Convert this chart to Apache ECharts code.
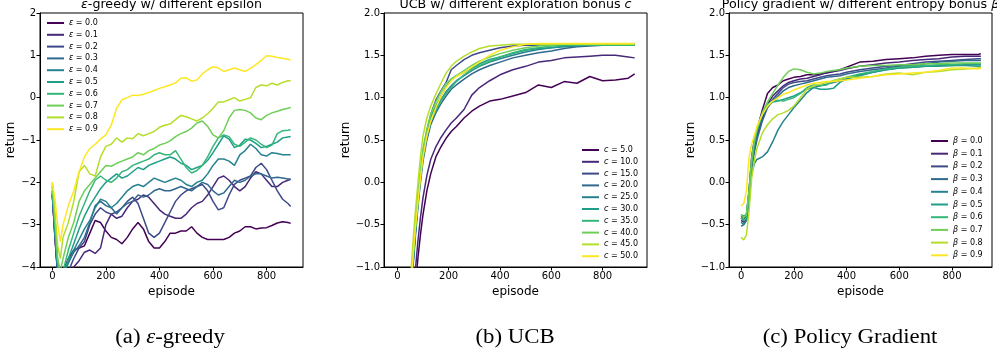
<!DOCTYPE html>
<html>
<head>
<meta charset="utf-8">
<script src="https://cdn.jsdelivr.net/npm/echarts@6/dist/echarts.min.js"></script>
<style>
  html, body { margin: 0; padding: 0; background: #fff; }
  #main { width: 997px; height: 356px; }
</style>
</head>
<body>
<div id="main"></div>
<script>
// ---- data ----
// (a) epsilon-greedy
var epsEpisodes = [0,10,20,30,40,60,80,100,120,140,160,180,200,220,240,260,280,300,320,340,360,380,400,420,440,460,480,500,520,540,560,580,600,620,640,660,680,700,720,740,760,780,800,820,840,860,880,890];
var eps00 = [-2.3,-3.3,-4.2,-4.4,-4.1,-3.8,-3.6,-3.55,-3.5,-3.2,-2.9,-2.95,-3.15,-3.3,-3.35,-3.45,-3.3,-3.1,-2.95,-3.1,-3.4,-3.55,-3.55,-3.4,-3.2,-3.2,-3.15,-3.15,-3.05,-3.2,-3.3,-3.35,-3.35,-3.35,-3.35,-3.3,-3.2,-3.15,-3.05,-3.05,-3.1,-3.08,-3.07,-3.02,-2.96,-2.93,-2.95,-2.97];
var eps01 = [-2.25,-3.3,-4.2,-4.5,-4.4,-4.2,-4.0,-3.85,-3.65,-3.6,-3.68,-3.55,-3.0,-2.75,-2.85,-2.8,-2.6,-2.45,-2.4,-2.3,-2.35,-2.5,-2.65,-2.75,-2.8,-2.85,-2.85,-2.75,-2.6,-2.5,-2.45,-2.3,-2.1,-1.9,-1.85,-1.95,-2.1,-2.2,-2.1,-1.9,-1.75,-1.8,-1.95,-2.1,-2.1,-2.0,-1.95,-1.93];
var eps02 = [-2.3,-3.3,-4.1,-4.5,-4.3,-4.1,-3.8,-3.55,-3.4,-3.0,-2.75,-2.6,-2.7,-2.75,-2.7,-2.6,-2.45,-2.35,-2.5,-2.85,-3.2,-3.3,-3.2,-2.95,-2.7,-2.45,-2.3,-2.2,-2.15,-2.1,-2.05,-2.2,-2.45,-2.65,-2.6,-2.3,-2.05,-1.95,-1.9,-1.85,-1.65,-1.55,-1.7,-1.95,-2.2,-2.4,-2.5,-2.57];
var eps03 = [-2.3,-3.2,-4.1,-4.4,-4.2,-3.9,-3.65,-3.5,-3.3,-2.95,-2.55,-2.45,-2.55,-2.6,-2.75,-2.6,-2.5,-2.45,-2.3,-2.35,-2.3,-2.2,-2.15,-2.2,-2.2,-2.15,-2.1,-2.15,-2.2,-2.1,-2.0,-2.05,-2.2,-2.3,-2.25,-2.1,-1.95,-2.0,-1.95,-1.85,-1.8,-1.8,-1.85,-1.9,-1.88,-1.9,-1.92,-1.92];
var eps04 = [-2.2,-3.2,-4.0,-4.3,-4.2,-3.9,-3.6,-3.35,-3.1,-2.9,-2.6,-2.4,-2.45,-2.6,-2.5,-2.35,-2.2,-2.1,-2.05,-2.1,-2.0,-1.9,-1.95,-2.0,-1.95,-1.9,-1.95,-2.05,-2.1,-2.0,-1.95,-1.8,-1.6,-1.45,-1.45,-1.5,-1.6,-1.35,-1.25,-1.1,-1.2,-1.35,-1.38,-1.3,-1.32,-1.35,-1.35,-1.35];
var eps05 = [-2.2,-3.1,-4.0,-4.3,-4.2,-3.8,-3.45,-3.1,-2.8,-2.55,-2.35,-2.15,-2.0,-1.9,-1.8,-1.9,-1.85,-1.75,-1.65,-1.7,-1.6,-1.55,-1.5,-1.45,-1.4,-1.45,-1.55,-1.6,-1.7,-1.65,-1.6,-1.48,-1.3,-1.1,-0.9,-0.98,-1.18,-1.12,-0.98,-1.0,-1.08,-1.18,-1.15,-1.1,-1.05,-0.95,-0.93,-0.92];
var eps06 = [-2.1,-3.0,-3.9,-4.2,-4.1,-3.6,-3.2,-2.8,-2.5,-2.2,-1.95,-1.85,-1.95,-2.0,-1.9,-1.75,-1.7,-1.6,-1.55,-1.5,-1.45,-1.35,-1.3,-1.35,-1.35,-1.25,-1.45,-1.65,-1.78,-1.72,-1.6,-1.4,-1.15,-0.95,-0.88,-0.92,-1.1,-1.15,-1.05,-0.95,-1.0,-1.1,-1.18,-1.12,-0.85,-0.78,-0.77,-0.76];
var eps07 = [-2.05,-2.9,-3.8,-4.1,-3.8,-3.3,-2.95,-2.45,-2.2,-2.05,-1.9,-1.75,-1.6,-1.62,-1.55,-1.5,-1.45,-1.4,-1.3,-1.35,-1.25,-1.2,-1.12,-1.08,-1.02,-0.92,-0.85,-0.8,-0.72,-0.6,-0.55,-0.68,-0.88,-0.95,-0.78,-0.48,-0.3,-0.28,-0.3,-0.36,-0.48,-0.52,-0.42,-0.36,-0.32,-0.28,-0.25,-0.23];
var eps08 = [-2.0,-2.7,-3.5,-3.8,-3.3,-2.95,-2.45,-1.75,-1.6,-1.8,-1.85,-1.4,-1.15,-1.1,-0.95,-1.05,-0.95,-0.97,-0.85,-0.9,-0.85,-0.8,-0.7,-0.65,-0.62,-0.52,-0.42,-0.45,-0.5,-0.55,-0.48,-0.38,-0.25,-0.1,-0.1,-0.05,0.0,-0.08,-0.04,0.0,0.24,0.3,0.28,0.34,0.3,0.36,0.4,0.4];
var eps09 = [-2.0,-2.4,-3.0,-3.4,-3.0,-2.55,-2.2,-1.75,-1.4,-1.2,-1.1,-0.98,-0.88,-0.65,-0.25,-0.05,0.0,0.06,0.05,0.08,0.12,0.17,0.22,0.26,0.3,0.35,0.46,0.47,0.39,0.42,0.56,0.66,0.73,0.7,0.62,0.66,0.7,0.66,0.62,0.69,0.78,0.88,0.99,0.98,0.95,0.93,0.91,0.88];
var epsNames = ['ε = 0.0','ε = 0.1','ε = 0.2','ε = 0.3','ε = 0.4','ε = 0.5','ε = 0.6','ε = 0.7','ε = 0.8','ε = 0.9'];

// (b) UCB
var ucbEpisodes = [0,40,50,60,70,80,90,100,115,130,150,170,190,210,230,260,290,320,360,400,450,500,550,600,650,700,750,800,850,900,925];
var ucb05 = [-4,-2.6,-2.1,-1.65,-1.25,-0.9,-0.62,-0.38,-0.1,0.1,0.3,0.42,0.52,0.6,0.66,0.76,0.84,0.9,0.96,0.98,1.02,1.06,1.15,1.12,1.19,1.17,1.25,1.2,1.21,1.23,1.28];
var ucb10 = [-4,-2.4,-1.9,-1.45,-1.05,-0.7,-0.42,-0.18,0.08,0.27,0.42,0.53,0.62,0.7,0.76,0.86,1.03,1.12,1.2,1.27,1.33,1.37,1.42,1.44,1.47,1.48,1.49,1.5,1.5,1.48,1.47];
var ucb15 = [-4,-1.9,-1.45,-1.0,-0.6,-0.25,0.05,0.3,0.6,0.8,0.97,1.08,1.18,1.33,1.38,1.45,1.5,1.53,1.56,1.59,1.61,1.62,1.62,1.63,1.63,1.63,1.63,1.63,1.63,1.63,1.63];
var ucb20 = [-4,-1.95,-1.5,-1.05,-0.65,-0.3,0.0,0.25,0.5,0.68,0.82,0.93,1.02,1.1,1.15,1.22,1.28,1.33,1.38,1.42,1.47,1.5,1.53,1.55,1.58,1.6,1.61,1.62,1.62,1.62,1.62];
var ucb25 = [-4,-1.9,-1.45,-1.0,-0.6,-0.25,0.05,0.3,0.55,0.72,0.86,0.97,1.07,1.14,1.2,1.26,1.32,1.37,1.42,1.46,1.5,1.54,1.57,1.59,1.6,1.61,1.62,1.62,1.62,1.62,1.62];
var ucb30 = [-4,-1.85,-1.4,-0.95,-0.55,-0.2,0.1,0.35,0.6,0.77,0.9,1.02,1.13,1.22,1.26,1.3,1.35,1.4,1.45,1.48,1.52,1.56,1.58,1.59,1.61,1.62,1.62,1.62,1.62,1.62,1.62];
var ucb35 = [-4,-1.85,-1.4,-0.97,-0.58,-0.25,0.05,0.3,0.55,0.72,0.85,0.96,1.05,1.12,1.19,1.27,1.33,1.38,1.43,1.48,1.53,1.57,1.59,1.61,1.62,1.62,1.62,1.62,1.62,1.62,1.62];
var ucb40 = [-4,-1.8,-1.35,-0.9,-0.5,-0.15,0.15,0.4,0.63,0.8,0.95,1.07,1.17,1.22,1.26,1.32,1.38,1.43,1.48,1.52,1.56,1.59,1.61,1.62,1.63,1.63,1.63,1.63,1.63,1.63,1.63];
var ucb45 = [-4,-1.65,-1.2,-0.75,-0.35,-0.02,0.3,0.55,0.76,0.9,1.04,1.17,1.29,1.37,1.43,1.49,1.54,1.58,1.61,1.62,1.63,1.63,1.63,1.63,1.63,1.63,1.63,1.63,1.63,1.63,1.63];
var ucb50 = [-4,-1.8,-1.35,-0.92,-0.55,-0.25,0.05,0.3,0.55,0.72,0.88,1.02,1.12,1.2,1.25,1.3,1.36,1.42,1.5,1.56,1.6,1.63,1.64,1.64,1.64,1.64,1.64,1.64,1.64,1.64,1.64];
var ucbNames = ['c = 5.0','c = 10.0','c = 15.0','c = 20.0','c = 25.0','c = 30.0','c = 35.0','c = 40.0','c = 45.0','c = 50.0'];

// (c) policy gradient
var pgEpisodes = [0,10,20,30,40,50,60,80,100,120,140,160,180,200,225,250,275,300,325,350,375,400,450,500,550,600,650,700,750,800,850,900,910];
var pg00 = [-0.42,-0.45,-0.4,-0.1,0.3,0.5,0.62,0.85,1.05,1.12,1.15,1.2,1.22,1.24,1.25,1.27,1.27,1.28,1.29,1.31,1.33,1.36,1.42,1.43,1.45,1.46,1.47,1.49,1.5,1.51,1.51,1.51,1.52];
var pg01 = [-0.45,-0.47,-0.45,-0.2,0.2,0.42,0.55,0.75,0.92,1.02,1.08,1.14,1.18,1.2,1.22,1.23,1.25,1.27,1.3,1.31,1.32,1.34,1.37,1.39,1.41,1.42,1.44,1.45,1.46,1.48,1.49,1.49,1.49];
var pg02 = [-0.4,-0.42,-0.4,-0.15,0.22,0.45,0.58,0.78,0.9,0.98,1.05,1.12,1.16,1.18,1.19,1.2,1.22,1.24,1.26,1.27,1.28,1.3,1.33,1.35,1.37,1.38,1.4,1.42,1.43,1.44,1.45,1.46,1.46];
var pg03 = [-0.52,-0.5,-0.45,-0.2,0.15,0.35,0.5,0.72,0.88,0.96,1.02,1.08,1.12,1.14,1.16,1.18,1.2,1.22,1.24,1.25,1.26,1.28,1.31,1.33,1.35,1.37,1.38,1.4,1.42,1.43,1.44,1.44,1.44];
var pg04 = [-0.47,-0.5,-0.45,-0.2,0.1,0.22,0.27,0.3,0.36,0.48,0.62,0.72,0.8,0.88,0.97,1.06,1.12,1.14,1.16,1.18,1.2,1.22,1.27,1.3,1.33,1.35,1.36,1.37,1.38,1.38,1.39,1.39,1.39];
var pg05 = [-0.38,-0.4,-0.38,-0.1,0.25,0.48,0.62,0.8,0.9,0.95,0.96,0.98,1.0,1.02,1.06,1.1,1.12,1.1,1.1,1.11,1.18,1.22,1.26,1.3,1.33,1.35,1.36,1.37,1.37,1.38,1.38,1.37,1.37];
var pg06 = [-0.42,-0.45,-0.42,-0.15,0.22,0.45,0.6,0.8,0.92,0.96,0.97,0.96,0.98,1.0,1.05,1.12,1.15,1.14,1.15,1.2,1.22,1.24,1.28,1.31,1.34,1.36,1.37,1.38,1.39,1.39,1.4,1.4,1.4];
var pg07 = [-0.38,-0.42,-0.38,-0.1,0.28,0.5,0.62,0.82,0.95,1.05,1.15,1.24,1.31,1.34,1.33,1.3,1.28,1.29,1.31,1.32,1.33,1.35,1.37,1.38,1.38,1.39,1.39,1.4,1.4,1.41,1.41,1.41,1.41];
var pg08 = [-0.65,-0.68,-0.62,-0.35,0.05,0.25,0.4,0.58,0.68,0.75,0.8,0.82,0.85,0.9,1.0,1.1,1.14,1.16,1.18,1.2,1.22,1.24,1.24,1.25,1.28,1.29,1.27,1.3,1.31,1.33,1.34,1.35,1.36];
var pg09 = [-0.28,-0.25,-0.1,0.3,0.45,0.55,0.66,0.8,0.9,0.96,1.0,1.04,1.06,1.09,1.12,1.15,1.17,1.18,1.19,1.19,1.2,1.21,1.23,1.25,1.27,1.28,1.29,1.3,1.32,1.35,1.35,1.34,1.35];
var pgNames = ['β = 0.0','β = 0.1','β = 0.2','β = 0.3','β = 0.4','β = 0.5','β = 0.6','β = 0.7','β = 0.8','β = 0.9'];

var xTickValues = [0, 200, 400, 600, 800];

// ---- chart ----
var FONT = 'DejaVu Sans';
var viridis = ['#440154','#482878','#3e4989','#31688e','#26828e','#1f9e89','#35b779','#6ece58','#b5de2b','#fde725'];

var chart = echarts.init(document.getElementById('main'));

function minusFmt(digits) {
  return function (v) {
    var s = digits ? Math.abs(v).toFixed(digits) : String(Math.abs(v));
    return v < 0 ? '\u2212' + s : s;
  };
}

function makeGrid(left) {
  return { left: left, top: 13, width: 263, height: 254, show: true,
           borderColor: '#000', borderWidth: 1, backgroundColor: 'transparent' };
}

function makeX(i, min, max) {
  return {
    type: 'value', gridIndex: i, min: min, max: max,
    name: 'episode', nameLocation: 'middle', nameGap: 16,
    nameTextStyle: { fontSize: 12, fontFamily: FONT, color: '#000' },
    axisLine: { show: true, onZero: false, lineStyle: { color: '#000', width: 1 } },
    axisTick: { show: true, inside: false, length: 3.5, lineStyle: { color: '#000' }, customValues: xTickValues },
    axisLabel: { fontSize: 10, fontFamily: FONT, color: '#000', margin: 4, customValues: xTickValues },
    splitLine: { show: false }
  };
}

function makeY(i, min, max, step, digits, gap) {
  return {
    type: 'value', gridIndex: i, min: min, max: max, interval: step,
    name: 'return', nameLocation: 'middle', nameGap: gap,
    nameTextStyle: { fontSize: 12, fontFamily: FONT, color: '#000' },
    axisLine: { show: true, onZero: false, lineStyle: { color: '#000', width: 1 } },
    axisTick: { show: true, inside: false, length: 3.5, lineStyle: { color: '#000' } },
    axisLabel: { fontSize: 10, fontFamily: FONT, color: '#000', margin: 4, formatter: minusFmt(digits) },
    splitLine: { show: false }
  };
}

function symFmt(name) { return '{i|' + name.charAt(0) + '}' + name.slice(1); }

function makeLegend(names, left, top, gap) {
  return {
    data: names, orient: 'vertical', left: left, top: top, padding: 0,
    icon: 'rect', itemWidth: 17, itemHeight: 2, itemGap: gap,
    formatter: symFmt,
    textStyle: {
      fontSize: 8, fontFamily: FONT, color: '#000', lineHeight: 10,
      rich: { i: { fontSize: 8, fontFamily: FONT, fontStyle: 'italic', color: '#000', lineHeight: 10 } }
    }
  };
}

var series = [];
function addSeries(idx, episodes, list, names) {
  list.forEach(function (vals, k) {
    series.push({
      type: 'line', name: names[k], xAxisIndex: idx, yAxisIndex: idx,
      data: vals.map(function (v, j) { return [episodes[j], v]; }),
      symbol: 'none', showSymbol: false, clip: true,
      lineStyle: { width: 1.5, color: viridis[k] },
      itemStyle: { color: viridis[k] }
    });
  });
}
addSeries(0, epsEpisodes, [eps00, eps01, eps02, eps03, eps04, eps05, eps06, eps07, eps08, eps09], epsNames);
addSeries(1, ucbEpisodes, [ucb05, ucb10, ucb15, ucb20, ucb25, ucb30, ucb35, ucb40, ucb45, ucb50], ucbNames);
addSeries(2, pgEpisodes, [pg00, pg01, pg02, pg03, pg04, pg05, pg06, pg07, pg08, pg09], pgNames);

// the source figure is slightly stretched horizontally, hence scaleX on the free texts
function titleText(x, text) {
  return {
    type: 'text', x: x, y: 5.5, scaleX: 1.1, silent: true,
    style: {
      text: text, align: 'center', verticalAlign: 'middle',
      fontSize: 11.5, fontFamily: FONT, fill: '#000',
      rich: { i: { fontSize: 11.5, fontFamily: FONT, fontStyle: 'italic', fill: '#000' } }
    }
  };
}

function caption(x, text) {
  return {
    type: 'text', x: x, y: 338, scaleX: 1.14, silent: true,
    style: {
      text: text, align: 'center', verticalAlign: 'middle',
      fontSize: 20, fontFamily: 'Liberation Serif', fill: '#000',
      rich: { i: { fontSize: 20, fontFamily: 'Liberation Serif', fontStyle: 'italic', fill: '#000' } }
    }
  };
}

chart.setOption({
  animation: false,
  backgroundColor: '#fff',
  grid: [makeGrid(40), makeGrid(384), makeGrid(729)],
  xAxis: [makeX(0, -46, 936), makeX(1, -52, 973), makeX(2, -46, 952)],
  yAxis: [makeY(0, -4, 2, 1, 0, 20), makeY(1, -1, 2, 0.5, 1, 30), makeY(2, -1, 2, 0.5, 1, 30)],
  legend: [
    makeLegend(epsNames, 47, 18, 1.8),
    makeLegend(ucbNames, 582, 145, 1.8),
    makeLegend(pgNames, 931, 136, 2.7)
  ],
  graphic: [
    titleText(171.5, '{i|ε}-greedy w/ different epsilon'),
    titleText(515.5, 'UCB w/ different exploration bonus {i|c}'),
    titleText(860.5, 'Policy gradient w/ different entropy bonus {i|β}'),
    caption(170, '(a) {i|ε}-greedy'),
    caption(515, '(b) UCB'),
    caption(850, '(c) Policy Gradient')
  ],
  series: series
});
</script>
</body>
</html>
